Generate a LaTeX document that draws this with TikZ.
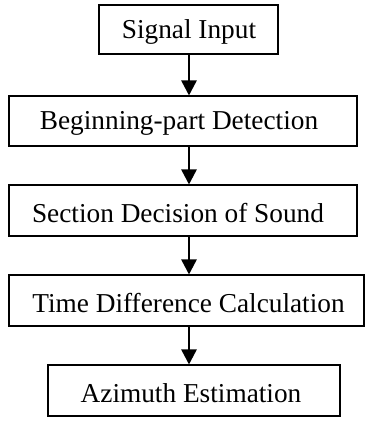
\documentclass[tikz,border=0pt]{standalone}
\usepackage{fontspec}
\setmainfont{Liberation Serif}
\usetikzlibrary{arrows.meta}
\begin{document}
\begin{tikzpicture}[x=1pt,y=1pt,
  box/.style={draw=black,line width=2pt,inner sep=0pt,rectangle},
  lbl/.style={font=\fontsize{27.3}{30}\selectfont,inner sep=0pt,anchor=center},
  flow/.style={line width=2.5pt,-{Triangle[width=15pt,length=15pt]}}]
\useasboundingbox (0,0) rectangle (366,423);
\node[box,minimum width=179pt,minimum height=49pt] (b1) at (188,393) {};
\node[box,minimum width=348pt,minimum height=50pt] (b2) at (182.5,301.5) {};
\node[box,minimum width=348pt,minimum height=51pt] (b3) at (182.5,212) {};
\node[box,minimum width=355pt,minimum height=51pt] (b4) at (186.5,122) {};
\node[box,minimum width=292pt,minimum height=51pt] (b5) at (193.5,32) {};
\node[lbl] (t1) at (189,391) {Signal Input};
\node[lbl] (t2) at (179,299.5) {Beginning-part Detection};
\node[lbl] (t3) at (178,210) {Section Decision of Sound};
\node[lbl] (t4) at (188.5,120) {Time Difference Calculation};
\node[lbl] (t5) at (191,30) {Azimuth Estimation};
\coordinate (ax) at (189,0);
\draw[flow] (b1.south -| ax) -- (b2.north -| ax);
\draw[flow] (b2.south -| ax) -- (b3.north -| ax);
\draw[flow] (b3.south -| ax) -- (b4.north -| ax);
\draw[flow] (b4.south -| ax) -- (b5.north -| ax);
\end{tikzpicture}
\end{document}
